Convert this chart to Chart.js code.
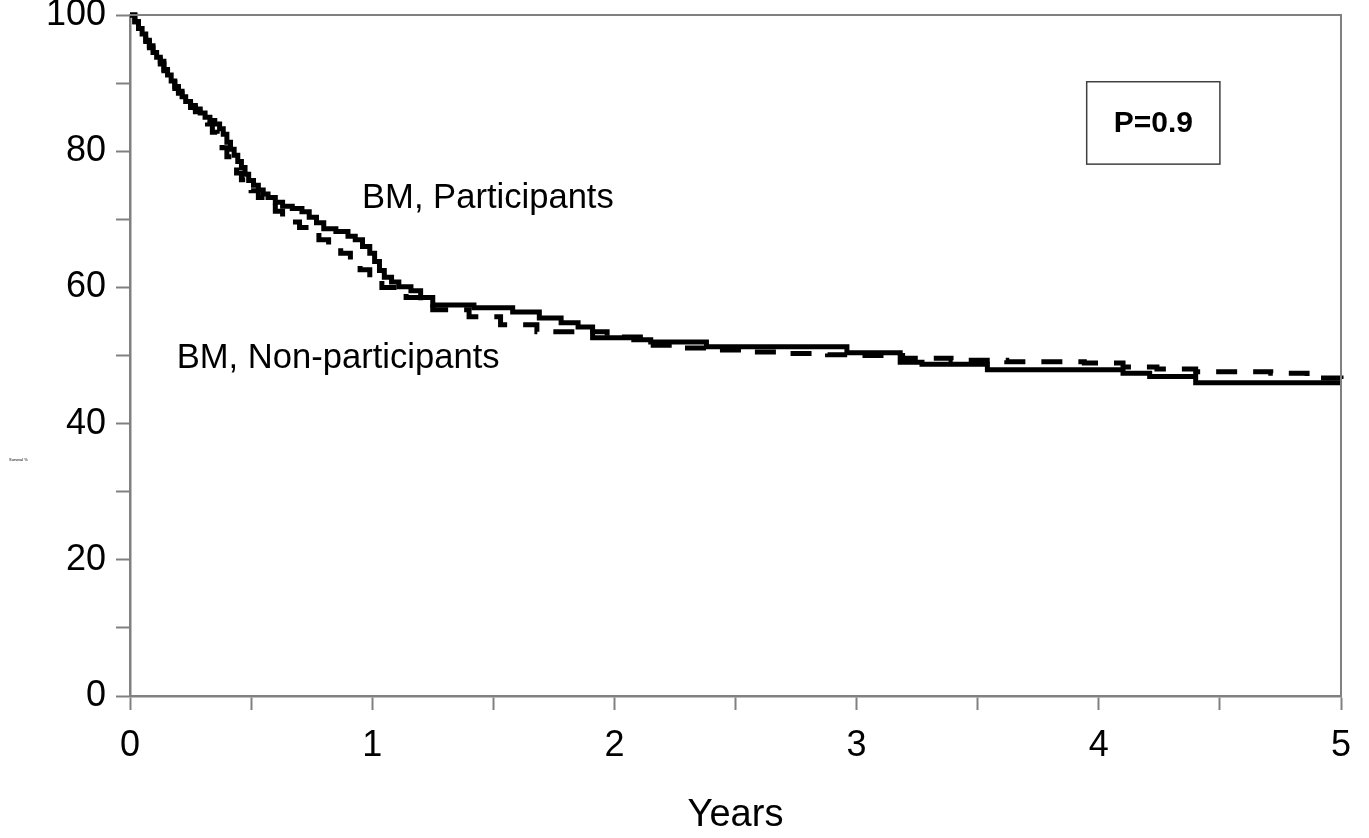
<!DOCTYPE html>
<html>
<head>
<meta charset="utf-8">
<script src="https://cdn.jsdelivr.net/npm/chart.js@4.4.1/dist/chart.umd.min.js"></script>
<style>
html,body{margin:0;padding:0;background:#fff;}
#wrap{width:1369px;height:838px;}
</style>
</head>
<body>
<div id="wrap"><canvas id="c" width="1369" height="838"></canvas></div>
<script>
// Participants (solid)
const partYears = [0, 0.02, 0.035, 0.05, 0.065, 0.08, 0.095, 0.11, 0.125, 0.14, 0.155, 0.17, 0.185, 0.20, 0.215, 0.23, 0.25, 0.27, 0.29, 0.31, 0.33, 0.35, 0.37, 0.385, 0.40, 0.415, 0.43, 0.445, 0.46, 0.475, 0.49, 0.51, 0.53, 0.55, 0.57, 0.60, 0.63, 0.67, 0.71, 0.74, 0.77, 0.80, 0.85, 0.90, 0.93, 0.96, 0.99, 1.01, 1.03, 1.05, 1.08, 1.11, 1.16, 1.20, 1.25, 1.42, 1.58, 1.69, 1.78, 1.85, 1.91, 2.08, 2.15, 2.38, 2.96, 3.18, 3.27, 3.54, 4.10, 4.21, 4.40, 5.0];
const partSurv  = [100, 99, 98, 97.2, 96.3, 95.5, 94.5, 93.8, 93.2, 92, 91.2, 90.3, 89.5, 88.8, 88, 87.3, 86.7, 86.2, 85.6, 85, 84.5, 84, 83.3, 82.5, 81.3, 80.3, 79.4, 78.5, 77.6, 76.6, 75.7, 75, 74.3, 73.7, 73.2, 72.5, 71.9, 71.6, 71.1, 70.3, 69.5, 68.6, 68.2, 67.5, 67, 66, 65, 63.8, 62.5, 61.5, 60.8, 60.1, 59.5, 58.5, 57.4, 57, 56.4, 55.5, 54.8, 54.2, 52.6, 52.3, 52, 51.3, 50.4, 49, 48.7, 47.9, 47.4, 46.9, 46.0, 46.0];
// Non-participants (dashed)
const nonYears = [0, 0.02, 0.035, 0.05, 0.065, 0.08, 0.095, 0.11, 0.125, 0.14, 0.155, 0.17, 0.185, 0.20, 0.215, 0.23, 0.25, 0.27, 0.30, 0.32, 0.34, 0.36, 0.38, 0.40, 0.42, 0.44, 0.46, 0.48, 0.50, 0.53, 0.56, 0.60, 0.63, 0.66, 0.70, 0.74, 0.78, 0.82, 0.87, 0.91, 0.95, 0.99, 1.04, 1.09, 1.14, 1.20, 1.25, 1.40, 1.53, 1.68, 1.83, 1.97, 2.12, 2.28, 2.38, 2.53, 2.72, 2.88, 2.99, 3.19, 3.39, 3.62, 3.94, 4.10, 4.24, 4.40, 4.71, 4.86, 5.0];
const nonSurv  = [100, 99, 98, 97, 96.1, 95.2, 94.3, 93.5, 92.8, 91.8, 91, 90.1, 89.2, 88.5, 87.7, 87, 86.4, 85.8, 85, 84, 82.8, 81.8, 80.5, 79.2, 78, 76.8, 75.8, 75, 74.2, 73.2, 72.3, 71.2, 70.3, 69.6, 68.8, 68, 67, 66.2, 65, 63.8, 62.6, 61.3, 60, 59.2, 58.5, 57.5, 56.7, 55.7, 54.5, 53.5, 53.5, 52.7, 51.5, 51.1, 50.8, 50.5, 50.3, 50.1, 50, 49.6, 49.3, 49.1, 48.9, 48.3, 48.0, 47.6, 47.4, 46.7, 46.5];

const xTickLabels = ['0','1','2','3','4','5'];
const yTickLabels = ['0','20','40','60','80','100'];
const seriesNames = ['BM, Participants','BM, Non-participants'];
const pValueText = 'P=0.9';
const xTitle = 'Years';
const yTitle = 'Survival %';

const toPts = (xs, ys) => xs.map((x, i) => ({x: x, y: ys[i]}));
const AX = '#808080';

const annot = {
  id: 'annot',
  afterDraw(chart) {
    const ctx = chart.ctx, a = chart.chartArea;
    const xs = chart.scales.x, ys = chart.scales.y;
    ctx.save();
    ctx.strokeStyle = AX; ctx.lineWidth = 2;
    ctx.beginPath();
    ctx.moveTo(a.left, a.top); ctx.lineTo(a.right, a.top); ctx.lineTo(a.right, a.bottom);
    ctx.stroke();
    ctx.fillStyle = '#000';
    ctx.font = '34.6px "Liberation Sans", Arial, sans-serif';
    ctx.textBaseline = 'middle'; ctx.textAlign = 'left';
    ctx.fillText(seriesNames[0], xs.getPixelForValue(0.958), ys.getPixelForValue(73.1));
    ctx.fillText(seriesNames[1], xs.getPixelForValue(0.193), ys.getPixelForValue(49.6));
    const bx0 = xs.getPixelForValue(3.95), bx1 = xs.getPixelForValue(4.5);
    const by0 = ys.getPixelForValue(90.2), by1 = ys.getPixelForValue(78.1);
    ctx.strokeStyle = '#404040'; ctx.lineWidth = 1.5;
    ctx.strokeRect(bx0, by0, bx1 - bx0, by1 - by0);
    ctx.font = 'bold 30px "Liberation Sans", Arial, sans-serif';
    ctx.textAlign = 'center';
    ctx.fillText(pValueText, (bx0 + bx1) / 2, (by0 + by1) / 2 + 1);
    ctx.font = '4px "Liberation Sans", Arial, sans-serif';
    ctx.textAlign = 'left';
    ctx.fillText(yTitle, 9, 460);
    ctx.restore();
  }
};

new Chart(document.getElementById('c'), {
  type: 'line',
  data: {
    datasets: [
      { label: seriesNames[0], data: toPts(partYears, partSurv), borderColor: '#000', borderWidth: 5, stepped: true, pointRadius: 0, fill: false },
      { label: seriesNames[1], data: toPts(nonYears, nonSurv), borderColor: '#000', borderWidth: 5, borderDash: [21, 16], stepped: true, pointRadius: 0, fill: false }
    ]
  },
  options: {
    responsive: false,
    animation: false,
    clip: false,
    layout: { padding: { left: 0, right: 28, top: 15, bottom: 0 } },
    plugins: { legend: { display: false }, tooltip: { enabled: false } },
    scales: {
      x: {
        type: 'linear', min: 0, max: 5,
        afterFit(s) { s.height = 142; },
        ticks: {
          stepSize: 0.5, autoSkip: false, maxRotation: 0,
          color: '#000', padding: 14,
          font: { family: '"Liberation Sans", Arial, sans-serif', size: 36 },
          callback: (v) => Number.isInteger(v) ? xTickLabels[v] : ''
        },
        grid: { drawOnChartArea: false, drawTicks: true, tickLength: 14, color: AX, tickWidth: 2 },
        border: { color: AX, width: 2.5 },
        title: { display: true, text: xTitle, color: '#000', font: { family: '"Liberation Sans", Arial, sans-serif', size: 38 }, padding: { top: 14, bottom: 0 } }
      },
      y: {
        type: 'linear', min: 0, max: 100,
        afterFit(s) { s.width = 130; },
        ticks: {
          stepSize: 10, autoSkip: false,
          color: '#000', padding: 10,
          font: { family: '"Liberation Sans", Arial, sans-serif', size: 36, lineHeight: 0.1 },
          callback: (v) => (v % 20 === 0) ? yTickLabels[v / 20] : ''
        },
        grid: { drawOnChartArea: false, drawTicks: true, tickLength: 14, color: AX, tickWidth: 2 },
        border: { color: AX, width: 2.5 }
      }
    }
  },
  plugins: [annot]
});
</script>
</body>
</html>
